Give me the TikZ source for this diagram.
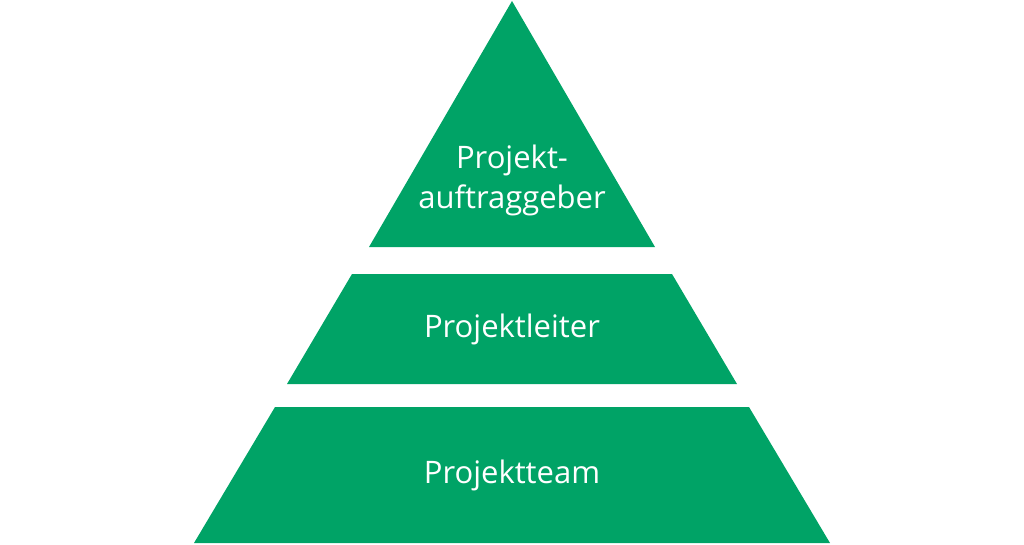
\documentclass[tikz,border=0pt]{standalone}
\usepackage{fontspec}
\setmainfont{Open Sans}
\definecolor{pgreen}{HTML}{00A366}
\begin{document}
\begin{tikzpicture}[x=1pt,y=-1pt,
  layer/.style={fill=pgreen,draw=none},
  lbl/.style={text=white,font=\fontsize{31}{40}\selectfont,align=center}]
\useasboundingbox (0,0) rectangle (1024,544);
\fill[layer] (512,1) -- (655,247) -- (369,247) -- cycle;
\fill[layer] (352,274) -- (672,274) -- (737,384) -- (287,384) -- cycle;
\fill[layer] (275,407) -- (749,407) -- (830,543) -- (194,543) -- cycle;
\node[lbl] (top) at (512,180) {Projekt-\\auftraggeber};
\node[lbl] (mid) at (512,329) {Projektleiter};
\node[lbl] (bot) at (512,475) {Projektteam};
\end{tikzpicture}
\end{document}
